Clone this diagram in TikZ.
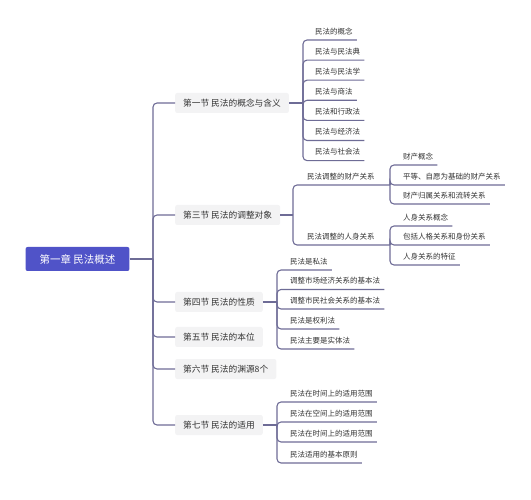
\documentclass[tikz,border=0pt]{standalone}
\usepackage{fontspec}
\setmainfont{Noto Sans CJK SC}
\usepackage{xcolor}
\usepackage{tikz}

\definecolor{linec}{HTML}{6E6C96}
\definecolor{rootc}{HTML}{5053C8}
\definecolor{secc}{HTML}{F3F3F4}
\definecolor{txtc}{HTML}{333333}

\tikzset{
  conn/.style={draw=linec, line width=1.1pt, rounded corners=4pt},
  rootbox/.style={fill=rootc, text=white, rounded corners=2pt, inner xsep=14pt,
    minimum height=24pt, font=\fontsize{10.5}{12}\selectfont},
  secbox/.style={fill=secc, text=txtc, rounded corners=2pt, inner xsep=8pt,
    minimum height=20pt, anchor=west, font=\fontsize{8.7}{10}\selectfont},
  leaf/.style={anchor=south west, text=txtc, inner xsep=4pt, inner ysep=4pt,
    text height=6pt, text depth=1.5pt, font=\fontsize{7.5}{9}\selectfont}
}

\begin{document}
\begin{tikzpicture}[x=1pt,y=-1pt]
\useasboundingbox (0,0) rectangle (531,500);
\node[rootbox] (root) at (77.5,259) {第一章 民法概述};
\node[secbox] (s1) at (175,103) {第一节 民法的概念与含义};
\node[secbox] (s3) at (175,215) {第三节 民法的调整对象};
\node[secbox] (s4) at (175,302) {第四节 民法的性质};
\node[secbox] (s5) at (175,337) {第五节 民法的本位};
\node[secbox] (s6) at (175,369) {第六节 民法的渊源8个};
\node[secbox] (s7) at (175,425) {第七节 民法的适用};
\coordinate (trunk) at (153,259);
\draw[conn] (root.east) -- (trunk);
\foreach \s in {s1,s3,s4,s5,s6,s7}
  \draw[conn] (trunk) |- (\s.west);

\coordinate (b1) at (303,103);
\draw[conn] (s1.east) -- (b1);
\foreach \t [count=\i] in {民法的概念,民法与民法典,民法与民法学,民法与商法,民法和行政法,民法与经济法,民法与社会法}{
  \node[leaf] (a\i) at (311,19.9+20.1*\i) {\t};
  \draw[conn] (b1) |- (a\i.south west) -- (a\i.south east);
}

\coordinate (b3) at (293,215);
\draw[conn] (s3.east) -- (b3);
\node[leaf] (p1) at (303,185) {民法调整的财产关系};
\node[leaf] (p2) at (303,245) {民法调整的人身关系};
\coordinate (c1) at (390,185);
\coordinate (c2) at (390,245);
\draw[conn] (b3) |- (p1.south west) -- (c1);
\draw[conn] (b3) |- (p2.south west) -- (c2);
\foreach \t/\y/\n in {财产概念/165/q1,平等、自愿为基础的财产关系/185/q2,财产归属关系和流转关系/204/q3}{
  \node[leaf] (\n) at (399,\y) {\t};
  \draw[conn] (c1) |- (\n.south west) -- (\n.south east);
}
\foreach \t/\y/\n in {人身关系概念/226/r1,包括人格关系和身份关系/245/r2,人身关系的特征/265/r3}{
  \node[leaf] (\n) at (399,\y) {\t};
  \draw[conn] (c2) |- (\n.south west) -- (\n.south east);
}

\coordinate (b4) at (277,302);
\draw[conn] (s4.east) -- (b4);
\foreach \t/\y/\n in {民法是私法/270/d1,调整市场经济关系的基本法/289.5/d2,调整市民社会关系的基本法/309/d3,民法是权利法/329/d4,民法主要是实体法/349/d5}{
  \node[leaf] (\n) at (286,\y) {\t};
  \draw[conn] (b4) |- (\n.south west) -- (\n.south east);
}

\coordinate (b7) at (277,425);
\draw[conn] (s7.east) -- (b7);
\foreach \t/\y/\n in {民法在时间上的适用范围/402/g1,民法在空间上的适用范围/422/g2,民法在时间上的适用范围/442/g3,民法适用的基本原则/463/g4}{
  \node[leaf] (\n) at (286,\y) {\t};
  \draw[conn] (b7) |- (\n.south west) -- (\n.south east);
}
\end{tikzpicture}
\end{document}
